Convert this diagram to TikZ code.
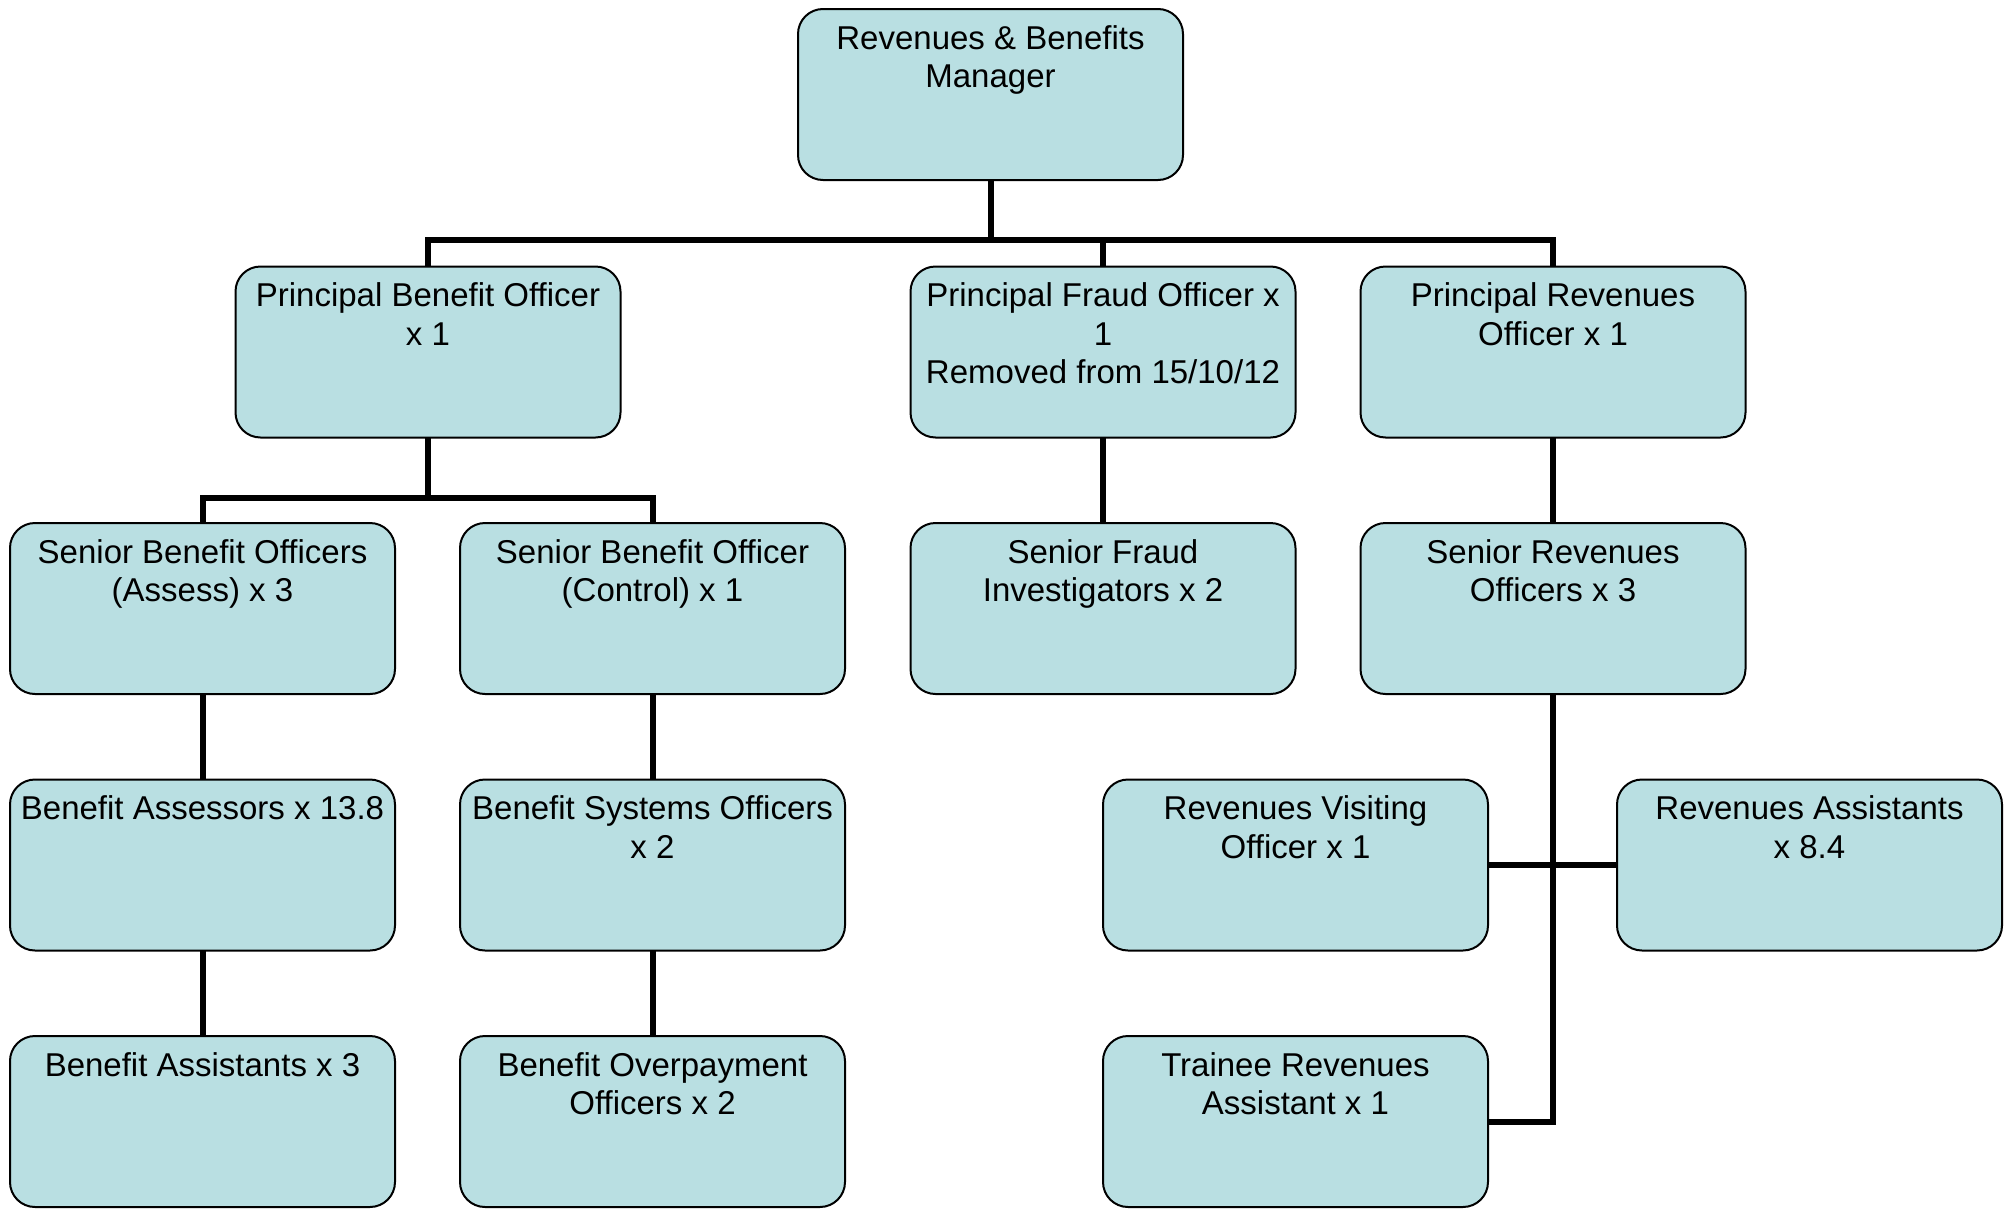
\documentclass[tikz,border=0pt]{standalone}
\usepackage{fontspec}
\setmainfont{Liberation Sans}
\definecolor{boxfill}{HTML}{B9DFE2}
\newcommand{\boxtext}[1]{\parbox[c][171pt][t]{385pt}{\centering\rule{0pt}{40pt}#1}}
\tikzset{
  orgbox/.style={draw=black, line width=2pt, fill=boxfill, rounded corners=25pt,
    inner sep=0pt, outer sep=0pt, minimum width=385pt, minimum height=171pt,
    font=\fontsize{33}{38.5}\selectfont},
  conn/.style={draw=black, line width=6pt}
}
\begin{document}
\begin{tikzpicture}[x=1pt, y=-1pt]
\useasboundingbox (0,0) rectangle (2011,1210);
% boxes
\node[orgbox] (top) at (990.5,94.5) {\boxtext{Revenues \& Benefits\\Manager}};
\node[orgbox] (pbo) at (428,352) {\boxtext{Principal Benefit Officer\\x 1}};
\node[orgbox] (pfo) at (1103,352) {\boxtext{Principal Fraud Officer x\\1\\Removed from 15/10/12}};
\node[orgbox] (pro) at (1553,352) {\boxtext{Principal Revenues\\Officer x 1}};
\node[orgbox] (sboa) at (202.5,608.5) {\boxtext{Senior Benefit Officers\\(Assess) x 3}};
\node[orgbox] (sboc) at (652.5,608.5) {\boxtext{Senior Benefit Officer\\(Control) x 1}};
\node[orgbox] (sfi) at (1103,608.5) {\boxtext{Senior Fraud\\Investigators x 2}};
\node[orgbox] (sro) at (1553,608.5) {\boxtext{Senior Revenues\\Officers x 3}};
\node[orgbox] (ba) at (202.5,865) {\boxtext{Benefit Assessors x 13.8}};
\node[orgbox] (bso) at (652.5,865) {\boxtext{Benefit Systems Officers\\x 2}};
\node[orgbox] (rvo) at (1295.5,865) {\boxtext{Revenues Visiting\\Officer x 1}};
\node[orgbox] (ra) at (1809.5,865) {\boxtext{Revenues Assistants\\x 8.4}};
\node[orgbox] (bas) at (202.5,1121.5) {\boxtext{Benefit Assistants x 3}};
\node[orgbox] (boo) at (652.5,1121.5) {\boxtext{Benefit Overpayment\\Officers x 2}};
\node[orgbox] (tra) at (1295.5,1121.5) {\boxtext{Trainee Revenues\\Assistant x 1}};
% junctions
\coordinate (j1) at (990.5,240);
\coordinate (j2) at (428,498);
\coordinate (j3) at (1553,865);
% connectors
\draw[conn] (top.south) -- (j1);
\draw[conn] (pbo.north) |- (j1) -| (pro.north);
\draw[conn] (pfo.north) -- (pfo.north |- j1);
\draw[conn] (pbo.south) -- (j2);
\draw[conn] (sboa.north) |- (j2) -| (sboc.north);
\draw[conn] (pfo.south) -- (sfi.north);
\draw[conn] (pro.south) -- (sro.north);
\draw[conn] (sboa.south) -- (ba.north);
\draw[conn] (ba.south) -- (bas.north);
\draw[conn] (sboc.south) -- (bso.north);
\draw[conn] (bso.south) -- (boo.north);
\draw[conn] (sro.south) |- (tra.east);
\draw[conn] (rvo.east) -- (j3);
\draw[conn] (ra.west) -- (j3);
\end{tikzpicture}
\end{document}
